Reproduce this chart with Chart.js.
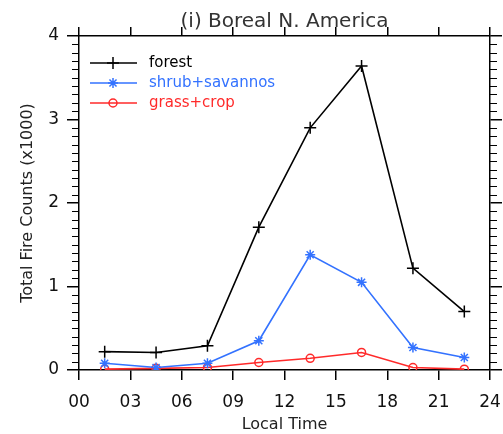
<!DOCTYPE html>
<html>
<head>
<meta charset="utf-8">
<script src="https://cdn.jsdelivr.net/npm/chart.js@4/dist/chart.umd.min.js"></script>
<style>
  body { margin: 0; background: #fff; }
  #wrap { width: 503px; height: 434px; }
</style>
</head>
<body>
<div id="wrap"><canvas id="fireChart" width="503" height="434"></canvas></div>
<script>
// Fire counts per 3-hour local time bin (x1000)
const localHours = [1.5, 4.5, 7.5, 10.5, 13.5, 16.5, 19.5, 22.5];
const forest = [0.22, 0.21, 0.29, 1.71, 2.90, 3.64, 1.22, 0.70];
const shrubSavannas = [0.08, 0.03, 0.08, 0.35, 1.38, 1.05, 0.27, 0.15];
const grassCrop = [0.01, 0.02, 0.03, 0.09, 0.14, 0.21, 0.03, 0.01];
const seriesNames = ['forest', 'shrub+savannos', 'grass+crop'];
const seriesColors = ['#000000', '#3372ff', '#ff2a2a'];

const FONT = 'DejaVu Sans';

function points(values) {
  return values.map((v, i) => ({ x: localHours[i], y: v }));
}

// fixed axis boxes so the plot frame stays put
function fixBox(w, h) {
  return s => {
    if (w !== null) s.width = w;
    if (h !== null) s.height = h;
    s.paddingLeft = 0;
    s.paddingRight = 0;
    s.paddingTop = 0;
    s.paddingBottom = 0;
  };
}

// minor ticks every 0.1 on both y axes, plus the in-plot legend
const extras = {
  id: 'extras',
  afterDraw(chart) {
    const ctx = chart.ctx;
    const y = chart.scales.y;
    const area = chart.chartArea;
    ctx.save();
    ctx.strokeStyle = '#000';
    ctx.lineWidth = 1.2;
    ctx.beginPath();
    for (let i = 0; i <= 40; i++) {
      if (i % 10 === 0) continue;
      const py = Math.round(y.getPixelForValue(i / 10)) + 0.5;
      ctx.moveTo(area.left - 7, py);
      ctx.lineTo(area.left, py);
      ctx.moveTo(area.right, py);
      ctx.lineTo(area.right + 7, py);
    }
    ctx.stroke();

    // legend
    chart.data.datasets.forEach((ds, i) => {
      const ly = 63 + i * 20;
      ctx.strokeStyle = ds.borderColor;
      ctx.lineWidth = 1.5;
      ctx.beginPath();
      ctx.moveTo(90, ly);
      ctx.lineTo(137, ly);
      ctx.stroke();
      ctx.fillStyle = ds.pointBackgroundColor;
      Chart.helpers.drawPoint(ctx, {
        pointStyle: ds.pointStyle,
        radius: ds.pointRadius,
        borderWidth: ds.pointBorderWidth,
        rotation: 0
      }, 113, ly);
      ctx.fillStyle = ds.borderColor;
      ctx.font = '15px "' + FONT + '"';
      ctx.textBaseline = 'middle';
      ctx.textAlign = 'left';
      ctx.fillText(ds.label, 149, ly);
    });
    ctx.restore();
  }
};

const styles = [
  { pointStyle: 'cross', pointRadius: 6 },
  { pointStyle: 'star', pointRadius: 5 },
  { pointStyle: 'circle', pointRadius: 4 }
];

const datasets = [forest, shrubSavannas, grassCrop].map((vals, i) => ({
  label: seriesNames[i],
  data: points(vals),
  borderColor: seriesColors[i],
  pointBorderColor: seriesColors[i],
  pointBackgroundColor: 'rgba(255,255,255,0)',
  borderWidth: 1.6,
  pointBorderWidth: 1.5,
  pointStyle: styles[i].pointStyle,
  pointRadius: styles[i].pointRadius,
  tension: 0,
  fill: false
}));

const axisGrid = (len) => ({
  drawOnChartArea: false,
  drawTicks: true,
  tickLength: len,
  color: '#000',
  lineWidth: 1.5
});
const axisBorder = { display: true, color: '#000', width: 1.5 };

new Chart(document.getElementById('fireChart').getContext('2d'), {
  type: 'line',
  data: { datasets: datasets },
  options: {
    responsive: false,
    animation: false,
    layout: { padding: 0 },
    plugins: {
      legend: { display: false },
      title: { display: false },
      tooltip: { enabled: false }
    },
    scales: {
      x: {
        type: 'linear',
        position: 'bottom',
        min: 0,
        max: 24,
        ticks: {
          stepSize: 3,
          color: '#111',
          padding: 12,
          maxRotation: 0,
          font: { family: FONT, size: 17 },
          callback: v => String(v).padStart(2, '0')
        },
        grid: axisGrid(10),
        border: axisBorder,
        title: {
          display: true,
          text: 'Local Time',
          color: '#222',
          font: { family: FONT, size: 16 },
          padding: { top: 0, bottom: 0 }
        },
        afterFit: fixBox(null, 64)
      },
      x2: {
        type: 'linear',
        position: 'top',
        min: 0,
        max: 24,
        ticks: { stepSize: 3, callback: () => '' },
        grid: axisGrid(9),
        border: axisBorder,
        title: {
          display: true,
          text: '(i) Boreal N. America',
          color: '#333',
          font: { family: FONT, size: 20 },
          padding: { top: 10, bottom: 0 }
        },
        afterFit: fixBox(null, 36)
      },
      y: {
        type: 'linear',
        position: 'left',
        min: 0,
        max: 4,
        ticks: {
          stepSize: 1,
          color: '#111',
          padding: 8,
          font: { family: FONT, size: 17 }
        },
        grid: axisGrid(12),
        border: axisBorder,
        title: {
          display: true,
          text: 'Total Fire Counts (x1000)',
          color: '#222',
          font: { family: FONT, size: 16 },
          padding: { top: 18, bottom: 0 }
        },
        afterFit: fixBox(79, null)
      },
      y2: {
        type: 'linear',
        position: 'right',
        min: 0,
        max: 4,
        ticks: { stepSize: 1, callback: () => '' },
        grid: axisGrid(12),
        border: axisBorder,
        afterFit: fixBox(13, null)
      }
    }
  },
  plugins: [extras]
});
</script>
</body>
</html>
